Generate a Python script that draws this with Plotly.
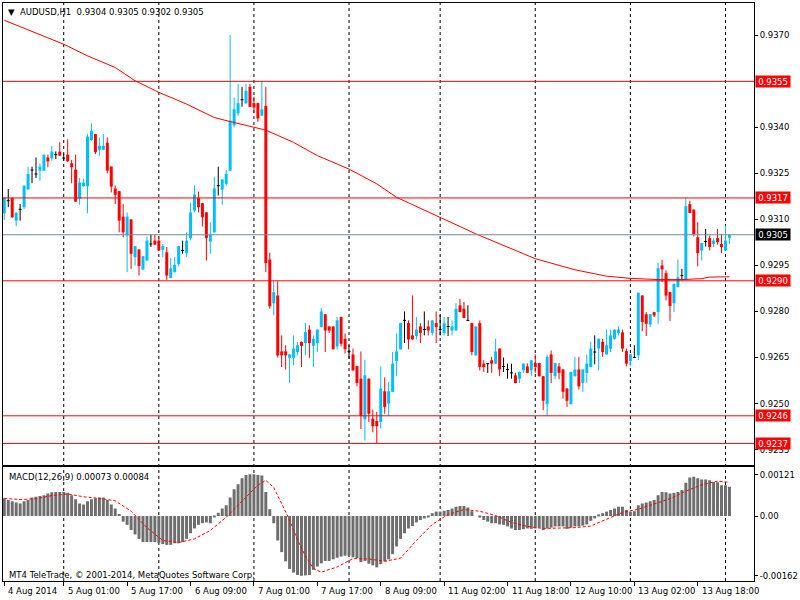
import plotly.graph_objects as go
from plotly.subplots import make_subplots

FONT = "DejaVu Sans"
FS = 8.5
BULL = "#00bfff"
BEAR = "#ff0000"

# hourly AUDUSD candles (index 0 = 4 Aug, last = 14 Aug 02:00)
opens = [0.93120, 0.93161, 0.93170, 0.93096, 0.93133, 0.93140, 0.93198, 0.93261, 0.93248, 0.93259,
         0.93259, 0.93302, 0.93299, 0.93311, 0.93321, 0.93300, 0.93311, 0.93283, 0.93262, 0.93167,
         0.93208, 0.93208, 0.93359, 0.93378, 0.93327, 0.93327, 0.93350, 0.93272, 0.93201, 0.93192,
         0.93109, 0.93048, 0.93100, 0.92977, 0.93002, 0.92937, 0.92966, 0.93020, 0.93031, 0.93031,
         0.93001, 0.92993, 0.92909, 0.92928, 0.92955, 0.92999, 0.92990, 0.93039, 0.93129, 0.93170,
         0.93153, 0.93123, 0.93028, 0.93058, 0.93210, 0.93197, 0.93216, 0.93259, 0.93407, 0.93446,
         0.93490, 0.93478, 0.93532, 0.93479, 0.93479, 0.93438, 0.93470, 0.92969, 0.92827, 0.92852,
         0.92670, 0.92670, 0.92649, 0.92649, 0.92668, 0.92701, 0.92697, 0.92741, 0.92688, 0.92697,
         0.92749, 0.92791, 0.92751, 0.92751, 0.92686, 0.92782, 0.92711, 0.92669, 0.92660, 0.92622,
         0.92581, 0.92449, 0.92581, 0.92451, 0.92443, 0.92440, 0.92540, 0.92500, 0.92538, 0.92639,
         0.92677, 0.92771, 0.92762, 0.92722, 0.92720, 0.92751, 0.92741, 0.92751, 0.92730, 0.92762,
         0.92741, 0.92730, 0.92751, 0.92738, 0.92738, 0.92820, 0.92809, 0.92771, 0.92762, 0.92657,
         0.92762, 0.92630, 0.92630, 0.92641, 0.92630, 0.92679, 0.92621, 0.92611, 0.92600, 0.92592,
         0.92581, 0.92608, 0.92621, 0.92608, 0.92632, 0.92632, 0.92589, 0.92498, 0.92660, 0.92589,
         0.92621, 0.92611, 0.92549, 0.92498, 0.92589, 0.92611, 0.92567, 0.92600, 0.92619, 0.92668,
         0.92679, 0.92701, 0.92660, 0.92679, 0.92711, 0.92730, 0.92732, 0.92671, 0.92639, 0.92650,
         0.92657, 0.92852, 0.92791, 0.92758, 0.92798, 0.92798, 0.92950, 0.92925, 0.92863, 0.92827,
         0.92880, 0.92917, 0.92904, 0.93150, 0.93132, 0.93042, 0.92999, 0.93028, 0.93039, 0.93020,
         0.93039, 0.93020, 0.92999, 0.93040]
highs = [0.93172, 0.93199, 0.93172, 0.93123, 0.93150, 0.93211, 0.93272, 0.93272, 0.93302, 0.93283,
         0.93312, 0.93311, 0.93340, 0.93322, 0.93351, 0.93313, 0.93361, 0.93294, 0.93311, 0.93235,
         0.93233, 0.93378, 0.93413, 0.93379, 0.93367, 0.93378, 0.93367, 0.93273, 0.93210, 0.93193,
         0.93150, 0.93123, 0.93101, 0.93014, 0.93003, 0.92981, 0.93044, 0.93051, 0.93051, 0.93042,
         0.93020, 0.93010, 0.92974, 0.92977, 0.93014, 0.93031, 0.93058, 0.93153, 0.93210, 0.93191,
         0.93154, 0.93124, 0.93091, 0.93239, 0.93272, 0.93231, 0.93261, 0.93701, 0.93497, 0.93541,
         0.93532, 0.93541, 0.93541, 0.93500, 0.93480, 0.93552, 0.93532, 0.92991, 0.92899, 0.92898,
         0.92722, 0.92690, 0.92661, 0.92722, 0.92701, 0.92702, 0.92762, 0.92755, 0.92722, 0.92742,
         0.92811, 0.92792, 0.92752, 0.92752, 0.92782, 0.92783, 0.92728, 0.92690, 0.92679, 0.92623,
         0.92670, 0.92643, 0.92582, 0.92480, 0.92473, 0.92621, 0.92585, 0.92570, 0.92668, 0.92728,
         0.92763, 0.92800, 0.92771, 0.92852, 0.92782, 0.92762, 0.92800, 0.92771, 0.92772, 0.92800,
         0.92789, 0.92782, 0.92782, 0.92771, 0.92827, 0.92841, 0.92831, 0.92820, 0.92763, 0.92752,
         0.92771, 0.92641, 0.92631, 0.92652, 0.92711, 0.92680, 0.92650, 0.92630, 0.92630, 0.92600,
         0.92604, 0.92631, 0.92631, 0.92642, 0.92660, 0.92633, 0.92590, 0.92660, 0.92673, 0.92633,
         0.92632, 0.92612, 0.92550, 0.92604, 0.92652, 0.92652, 0.92612, 0.92660, 0.92701, 0.92722,
         0.92712, 0.92711, 0.92741, 0.92741, 0.92742, 0.92752, 0.92741, 0.92679, 0.92661, 0.92690,
         0.92862, 0.92853, 0.92798, 0.92792, 0.92799, 0.92959, 0.92968, 0.92934, 0.92864, 0.92891,
         0.92969, 0.92939, 0.93170, 0.93161, 0.93133, 0.93091, 0.93024, 0.93069, 0.93048, 0.93039,
         0.93069, 0.93053, 0.93080, 0.93050]
lows = [0.93098, 0.93140, 0.93105, 0.93078, 0.93096, 0.93134, 0.93197, 0.93218, 0.93235, 0.93226,
        0.93258, 0.93270, 0.93291, 0.93297, 0.93307, 0.93291, 0.93288, 0.93218, 0.93157, 0.93148,
        0.93207, 0.93120, 0.93356, 0.93313, 0.93307, 0.93326, 0.93250, 0.93188, 0.93150, 0.93058,
        0.93042, 0.92928, 0.92939, 0.92950, 0.92917, 0.92934, 0.92965, 0.93010, 0.93017, 0.92998,
        0.92977, 0.92903, 0.92908, 0.92927, 0.92947, 0.92988, 0.92977, 0.93032, 0.93123, 0.93123,
        0.93077, 0.92966, 0.92988, 0.93057, 0.93178, 0.93148, 0.93210, 0.93258, 0.93400, 0.93438,
        0.93467, 0.93477, 0.93466, 0.93446, 0.93418, 0.93437, 0.92928, 0.92809, 0.92787, 0.92650,
        0.92619, 0.92611, 0.92567, 0.92625, 0.92657, 0.92619, 0.92657, 0.92649, 0.92619, 0.92668,
        0.92748, 0.92668, 0.92730, 0.92676, 0.92676, 0.92686, 0.92663, 0.92646, 0.92607, 0.92556,
        0.92417, 0.92379, 0.92440, 0.92406, 0.92370, 0.92419, 0.92467, 0.92459, 0.92537, 0.92589,
        0.92676, 0.92697, 0.92677, 0.92708, 0.92709, 0.92697, 0.92722, 0.92722, 0.92722, 0.92697,
        0.92722, 0.92722, 0.92720, 0.92722, 0.92737, 0.92797, 0.92778, 0.92769, 0.92657, 0.92656,
        0.92608, 0.92603, 0.92600, 0.92600, 0.92629, 0.92589, 0.92603, 0.92581, 0.92581, 0.92566,
        0.92567, 0.92600, 0.92599, 0.92589, 0.92600, 0.92588, 0.92478, 0.92459, 0.92567, 0.92579,
        0.92579, 0.92516, 0.92489, 0.92497, 0.92588, 0.92546, 0.92538, 0.92567, 0.92618, 0.92628,
        0.92608, 0.92652, 0.92659, 0.92668, 0.92708, 0.92722, 0.92668, 0.92621, 0.92621, 0.92649,
        0.92641, 0.92736, 0.92720, 0.92749, 0.92782, 0.92760, 0.92896, 0.92836, 0.92769, 0.92798,
        0.92879, 0.92901, 0.92903, 0.93120, 0.93045, 0.92947, 0.92966, 0.93012, 0.92999, 0.93010,
        0.93018, 0.92990, 0.92998, 0.93020]
closes = [0.93170, 0.93161, 0.93107, 0.93122, 0.93133, 0.93210, 0.93248, 0.93261, 0.93248, 0.93272,
          0.93311, 0.93289, 0.93321, 0.93311, 0.93308, 0.93300, 0.93289, 0.93270, 0.93158, 0.93220,
          0.93220, 0.93370, 0.93389, 0.93319, 0.93340, 0.93340, 0.93259, 0.93207, 0.93180, 0.93096,
          0.93058, 0.93109, 0.92988, 0.93013, 0.92948, 0.92980, 0.93031, 0.93020, 0.93018, 0.92999,
          0.93013, 0.92917, 0.92941, 0.92952, 0.93013, 0.92999, 0.93031, 0.93123, 0.93181, 0.93140,
          0.93107, 0.93039, 0.93050, 0.93201, 0.93210, 0.93230, 0.93248, 0.93422, 0.93459, 0.93479,
          0.93490, 0.93519, 0.93467, 0.93465, 0.93429, 0.93459, 0.92958, 0.92817, 0.92863, 0.92657,
          0.92657, 0.92657, 0.92660, 0.92679, 0.92690, 0.92688, 0.92733, 0.92697, 0.92711, 0.92741,
          0.92800, 0.92738, 0.92738, 0.92677, 0.92771, 0.92695, 0.92677, 0.92669, 0.92608, 0.92567,
          0.92459, 0.92592, 0.92467, 0.92426, 0.92426, 0.92549, 0.92489, 0.92540, 0.92630, 0.92670,
          0.92762, 0.92771, 0.92709, 0.92709, 0.92741, 0.92730, 0.92741, 0.92738, 0.92771, 0.92749,
          0.92741, 0.92762, 0.92751, 0.92751, 0.92809, 0.92798, 0.92779, 0.92771, 0.92668, 0.92751,
          0.92619, 0.92619, 0.92630, 0.92630, 0.92670, 0.92611, 0.92621, 0.92611, 0.92600, 0.92567,
          0.92603, 0.92630, 0.92600, 0.92641, 0.92619, 0.92589, 0.92509, 0.92652, 0.92600, 0.92632,
          0.92600, 0.92538, 0.92509, 0.92603, 0.92611, 0.92556, 0.92611, 0.92630, 0.92679, 0.92668,
          0.92711, 0.92668, 0.92690, 0.92722, 0.92741, 0.92741, 0.92679, 0.92630, 0.92660, 0.92650,
          0.92861, 0.92766, 0.92760, 0.92791, 0.92787, 0.92941, 0.92937, 0.92852, 0.92818, 0.92890,
          0.92912, 0.92917, 0.93143, 0.93121, 0.93051, 0.92990, 0.93023, 0.93028, 0.93010, 0.93031,
          0.93026, 0.93010, 0.93031, 0.93050]

# 200 period moving average, sampled along the red curve
ma_idx = [0, 15, 21, 28, 33, 39, 46, 53, 57, 63, 66, 73, 79, 87, 94, 99, 110, 119, 134, 144,
          152, 158, 165, 171, 176, 178, 183]
ma_val = [0.93749, 0.93671, 0.93633, 0.93595, 0.93552, 0.93514, 0.93476, 0.93432, 0.93419, 0.93402,
          0.93391, 0.93351, 0.93308, 0.93264, 0.93216, 0.93172, 0.93107, 0.93053, 0.92972, 0.92936,
          0.92915, 0.92908, 0.92904, 0.92904, 0.92907, 0.92912, 0.92913]

# MACD(12,26,9) histogram, one value per candle
macd = [0.00044, 0.00040, 0.00037, 0.00034, 0.00031, 0.00037, 0.00040, 0.00046, 0.00048, 0.00050,
        0.00052, 0.00056, 0.00059, 0.00060, 0.00060, 0.00060, 0.00058, 0.00052, 0.00042, 0.00031,
        0.00029, 0.00037, 0.00042, 0.00044, 0.00046, 0.00046, 0.00040, 0.00029, 0.00019, 0.00005,
        -0.00014, -0.00022, -0.00035, -0.00046, -0.00057, -0.00065, -0.00065, -0.00065, -0.00065, -0.00068,
        -0.00070, -0.00072, -0.00072, -0.00068, -0.00068, -0.00065, -0.00057, -0.00043, -0.00031, -0.00022,
        -0.00018, -0.00016, -0.00018, -0.00003, 0.00008, 0.00019, 0.00027, 0.00046, 0.00067, 0.00079,
        0.00094, 0.00102, 0.00104, 0.00104, 0.00102, 0.00101, 0.00060, 0.00017, -0.00018, -0.00061,
        -0.00090, -0.00113, -0.00132, -0.00141, -0.00147, -0.00149, -0.00148, -0.00147, -0.00134, -0.00126,
        -0.00118, -0.00112, -0.00112, -0.00108, -0.00104, -0.00101, -0.00099, -0.00099, -0.00103, -0.00105,
        -0.00115, -0.00112, -0.00119, -0.00123, -0.00128, -0.00120, -0.00113, -0.00108, -0.00095, -0.00076,
        -0.00057, -0.00043, -0.00031, -0.00025, -0.00016, -0.00010, -0.00006, -0.00002, 0.00007, 0.00011,
        0.00011, 0.00013, 0.00015, 0.00019, 0.00023, 0.00025, 0.00025, 0.00021, 0.00012, 0.00000,
        -0.00004, -0.00010, -0.00014, -0.00018, -0.00018, -0.00021, -0.00022, -0.00026, -0.00031, -0.00035,
        -0.00035, -0.00033, -0.00031, -0.00032, -0.00031, -0.00029, -0.00035, -0.00031, -0.00029, -0.00026,
        -0.00026, -0.00026, -0.00032, -0.00029, -0.00026, -0.00026, -0.00024, -0.00021, -0.00012, -0.00006,
        0.00004, 0.00007, 0.00011, 0.00015, 0.00019, 0.00023, 0.00023, 0.00015, 0.00011, 0.00012,
        0.00027, 0.00031, 0.00034, 0.00037, 0.00040, 0.00052, 0.00060, 0.00059, 0.00056, 0.00058,
        0.00060, 0.00065, 0.00083, 0.00096, 0.00098, 0.00094, 0.00091, 0.00091, 0.00089, 0.00085,
        0.00084, 0.00077, 0.00077, 0.00073]

sig_idx = [0, 4, 8, 12, 16, 20, 24, 28, 32, 36, 40, 44, 48, 52, 56, 60, 64, 66, 68, 70,
           72, 74, 76, 78, 80, 84, 88, 92, 96, 100, 104, 108, 112, 116, 120, 124, 128, 132, 136, 140,
           144, 148, 152, 156, 160, 164, 168, 172, 176, 180, 183]
sig_val = [0.00044, 0.00041, 0.00043, 0.00051, 0.00055, 0.00048, 0.00044, 0.00038, 0.00012, -0.00029,
           -0.00061, -0.00066, -0.00057, -0.00036, -0.00003, 0.00037, 0.00077, 0.00089, 0.00071, 0.00031,
           -0.00010, -0.00060, -0.00100, -0.00131, -0.00140, -0.00127, -0.00106, -0.00107, -0.00113, -0.00105,
           -0.00061, -0.00021, 0.00004, 0.00016, 0.00012, 0.00001, -0.00016, -0.00026, -0.00031, -0.00030,
           -0.00029, -0.00025, -0.00007, 0.00009, 0.00017, 0.00030, 0.00043, 0.00062, 0.00078, 0.00087,
           0.00084]

label_idx = [0, 15, 31, 47, 63, 79, 95, 111, 127, 143, 159, 175]
labels = ["4 Aug 2014", "5 Aug 01:00", "5 Aug 17:00", "6 Aug 09:00", "7 Aug 01:00", "7 Aug 17:00",
          "8 Aug 09:00", "11 Aug 02:00", "11 Aug 18:00", "12 Aug 10:00", "13 Aug 02:00", "13 Aug 18:00"]
day_idx = [15, 39, 63, 87, 110, 134, 158, 182]

price_ticks = [0.9235, 0.9250, 0.9265, 0.9280, 0.9295, 0.9310, 0.9325, 0.9340, 0.9370]
levels = [0.9355, 0.9317, 0.9290, 0.9246, 0.9237]
bid = 0.9305
macd_ticks = ["0.00121", "0.00", "-0.00162"]

bars = list(range(len(closes)))
BODY_W = 0.75  # 3 of every 4 pixels, as on the MT4 chart

fig = make_subplots(rows=2, cols=1, shared_xaxes=True)


def add_candles(keep, color):
    idx = [i for i in bars if keep(opens[i], closes[i])]
    wx, wy = [], []
    for i in idx:
        wx += [i, i, None]
        wy += [lows[i], highs[i], None]
    fig.add_trace(go.Scatter(x=wx, y=wy, mode="lines", line=dict(color=color, width=1),
                             showlegend=False, hoverinfo="skip"), row=1, col=1)
    lo = [min(opens[i], closes[i]) for i in idx]
    hi = [max(opens[i], closes[i]) for i in idx]
    fig.add_trace(go.Bar(x=idx, base=lo, y=[h - l for h, l in zip(hi, lo)], width=BODY_W,
                         marker=dict(color=color, line=dict(width=0)),
                         showlegend=False, hoverinfo="skip"), row=1, col=1)


add_candles(lambda o, c: c > o, BULL)
add_candles(lambda o, c: c < o, BEAR)

# doji: wick plus a short flat body line
dj = [i for i in bars if opens[i] == closes[i]]
dx, dy = [], []
for i in dj:
    dx += [i, i, None, i - BODY_W / 2, i + BODY_W / 2, None]
    dy += [lows[i], highs[i], None, opens[i], opens[i], None]
fig.add_trace(go.Scatter(x=dx, y=dy, mode="lines", line=dict(color="black", width=1),
                         showlegend=False, hoverinfo="skip"), row=1, col=1)

fig.add_trace(go.Scatter(x=ma_idx, y=ma_val, mode="lines", line=dict(color="red", width=1),
                         showlegend=False, hoverinfo="skip"), row=1, col=1)

fig.add_trace(go.Bar(x=bars, y=macd, width=BODY_W, marker=dict(color="#6e6e6e", line=dict(width=0)),
                     showlegend=False, hoverinfo="skip"), row=2, col=1)
fig.add_trace(go.Scatter(x=sig_idx, y=sig_val, mode="lines",
                         line=dict(color="red", width=1, dash="3px,2px"),
                         showlegend=False, hoverinfo="skip"), row=2, col=1)

# day separators
for d in day_idx:
    fig.add_shape(type="line", xref="x", yref="paper", x0=d, x1=d, y0=0, y1=1,
                  line=dict(color="black", width=1, dash="3px,3px"), layer="below")

# horizontal levels and their price tags
for lv in levels:
    fig.add_shape(type="line", xref="paper", yref="y", x0=0, x1=1, y0=lv, y1=lv,
                  line=dict(color="red", width=1))
    fig.add_annotation(xref="paper", yref="y", x=1, y=lv, xanchor="left", xshift=1,
                       text=f"{lv:.4f}", showarrow=False, bgcolor="red", borderpad=1,
                       width=32, height=9, font=dict(family=FONT, size=FS, color="white"))
fig.add_shape(type="line", xref="paper", yref="y", x0=0, x1=1, y0=bid, y1=bid,
              line=dict(color="#778899", width=1))
fig.add_annotation(xref="paper", yref="y", x=1, y=bid, xanchor="left", xshift=1,
                   text=f"{bid:.4f}", showarrow=False, bgcolor="black", borderpad=1,
                   width=32, height=9, font=dict(family=FONT, size=FS, color="white"))

# time labels, left aligned on their bar like MT4
for i, t in zip(label_idx, labels):
    fig.add_annotation(xref="x2", yref="paper", x=i, y=0, xanchor="left", yanchor="middle",
                       xshift=2, yshift=-10, text=t, showarrow=False,
                       font=dict(family=FONT, size=FS, color="black"))

fig.add_annotation(xref="paper", yref="paper", x=0, y=1, xanchor="left", yanchor="middle",
                   xshift=3, yshift=-9, showarrow=False,
                   text="\u25bc  AUDUSD,H1  0.9304 0.9305 0.9302 0.9305",
                   font=dict(family=FONT, size=FS, color="black"))
fig.add_annotation(xref="paper", yref="y2 domain", x=0, y=1, xanchor="left", yanchor="middle",
                   xshift=4, yshift=-10, showarrow=False,
                   text="MACD(12,26,9) 0.00073 0.00084",
                   font=dict(family=FONT, size=FS, color="black"))
fig.add_annotation(xref="paper", yref="y2 domain", x=0, y=0, xanchor="left", yanchor="middle",
                   xshift=4, yshift=6, showarrow=False,
                   text="MT4 TeleTrade, \u00a9 2001-2014, MetaQuotes Software Corp.",
                   font=dict(family=FONT, size=FS, color="black"))

axis_style = dict(showline=True, mirror=True, linecolor="black", linewidth=1,
                  showgrid=False, zeroline=False)
fig.update_xaxes(axis_style, range=[-0.325, 189.2])
fig.update_xaxes(showticklabels=False, ticks="", row=1, col=1)
fig.update_xaxes(showticklabels=False, ticks="outside", ticklen=4, tickcolor="black",
                 tickvals=label_idx, row=2, col=1)
fig.update_yaxes(axis_style, side="right", ticks="outside", ticklen=3, tickcolor="black",
                 tickfont=dict(family=FONT, size=FS, color="black"))
fig.update_yaxes(range=[0.923001, 0.938053], tickvals=price_ticks, tickformat=".4f",
                 row=1, col=1)
fig.update_yaxes(range=[-0.00162, 0.00121], tickvals=[0.001026, 0.0, -0.001489],
                 ticktext=macd_ticks, row=2, col=1)

fig.update_layout(
    width=800, height=600,
    margin=dict(l=2, r=40, t=2, b=19),
    paper_bgcolor="white", plot_bgcolor="white",
    barmode="overlay",
    font=dict(family=FONT, size=FS, color="black"),
    yaxis=dict(domain=[0.2009, 1]),
    yaxis2=dict(domain=[0, 0.1964]),
    showlegend=False,
)

# the page body has an 8px default margin; drop it so the chart fills the window
fig.write_html("out.html", config={"displayModeBar": False},
               post_script="document.body.style.margin='0px';")
